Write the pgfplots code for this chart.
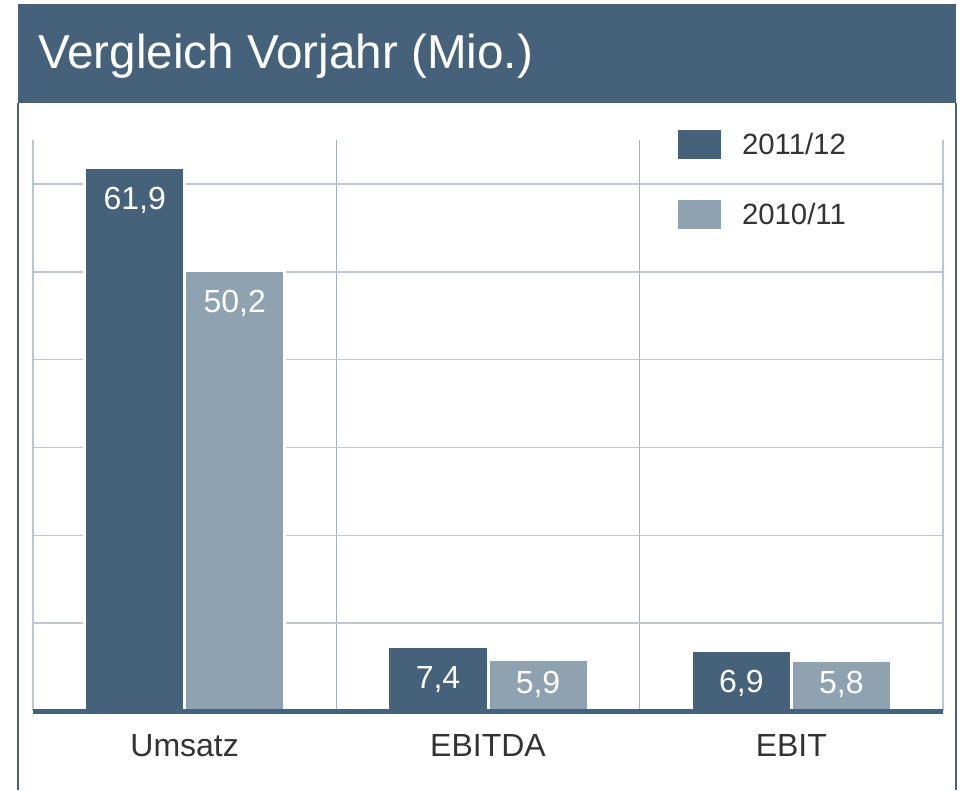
\documentclass[border=0pt]{standalone}
\usepackage{pgfplots}
\pgfplotsset{compat=1.18}
\usepackage{fontspec}
\setmainfont{Liberation Sans}

\definecolor{barDark}{HTML}{46627A}
\definecolor{barLight}{HTML}{8FA2B1}
\definecolor{gridH}{HTML}{BCC7D1}
\definecolor{gridV}{HTML}{A2B1BE}
\definecolor{txt}{HTML}{333333}

% 1px of the reference = 0.75pt
\pgfplotsset{
  mybar/.style={
    ybar, bar width=0.33, draw=white, line width=2.25pt,
    nodes near coords={\pgfmathprintnumber[fixed,fixed zerofill,precision=1,use comma,assume math mode=true]{\pgfplotspointmeta}},
    visualization depends on={rawy \as \rawy},
    every node near coord/.append style={anchor=center, text=white,
      font=\fontsize{24}{29}\selectfont, inner sep=0pt,
      yshift={-min(22.5,\rawy*6.588-22.5)*1pt-2.5pt}},
    legend image code/.code={
      \fill[##1,draw=none] (0pt,-10.875pt) rectangle (32.25pt,10.875pt);
      \path[draw=none,fill=none] (0pt,0pt) -- (48pt,0pt);},
  },
}

\begin{document}
\begin{tikzpicture}
\useasboundingbox (0,0) rectangle (722.25pt,-592.5pt);
% title bar and frame
\fill[barDark] (13.5pt,-3pt) rectangle (717pt,-77.25pt);
\draw[barDark, line width=1.1pt] (13.5pt,-77.25pt) -- (13.5pt,-592.5pt);
\draw[barDark, line width=1.1pt] (717pt,-77.25pt) -- (717pt,-592.5pt);
\node[anchor=base west, inner sep=0pt, text=white, font=\fontsize{35.7}{43}\selectfont]
  at (28.5pt,-51pt) {Vergleich Vorjahr (Mio.)};

\begin{axis}[
  at={(24.75pt,-533.25pt)}, anchor=south west,
  scale only axis, width=682.5pt, height=428.25pt,
  xmin=-0.5, xmax=2.5, ymin=0, ymax=65,
  xtick={0,1,2}, xticklabels={Umsatz,EBITDA,EBIT},
  minor xtick={0.5,1.5},
  ytick={10,20,...,60}, yticklabels={},
  xminorgrids, ymajorgrids,
  major grid style={gridH, line width=1.1pt},
  minor grid style={gridV, line width=0.8pt},
  major tick length=0pt, minor tick length=0pt,
  axis line style={draw=none},
  xticklabel style={anchor=base, yshift=-33.75pt, text=txt,
    font=\fontsize{24}{29}\selectfont, inner sep=0pt},
  clip=false,
  legend cell align=left,
  legend style={at={(0.7088,1.0175)}, anchor=north west, draw=none, fill=none,
    inner sep=0pt, outer sep=0pt, row sep=30.75pt,
    nodes={inner sep=0pt, text=txt, font=\fontsize{22}{26}\selectfont}},
]
\addplot[mybar, bar shift=-0.165, fill=barDark,
  every node near coord/.append style={xshift=-37.5pt}]
  coordinates {(0,61.9) (1,7.4) (2,6.9)};
\addlegendentry{2011/12}
\addplot[mybar, bar shift=0.165, fill=barLight,
  every node near coord/.append style={xshift=37.5pt}]
  coordinates {(0,50.2) (1,5.9) (2,5.8)};
\addlegendentry{2010/11}

\draw[gridH, line width=1.1pt] (axis cs:-0.5,0) -- (axis cs:-0.5,65);
\draw[gridH, line width=1.1pt] (axis cs:2.5,0) -- (axis cs:2.5,65);
\draw[barDark, line width=3.75pt] (rel axis cs:0,0) -- (rel axis cs:1,0);
\end{axis}
\end{tikzpicture}
\end{document}
